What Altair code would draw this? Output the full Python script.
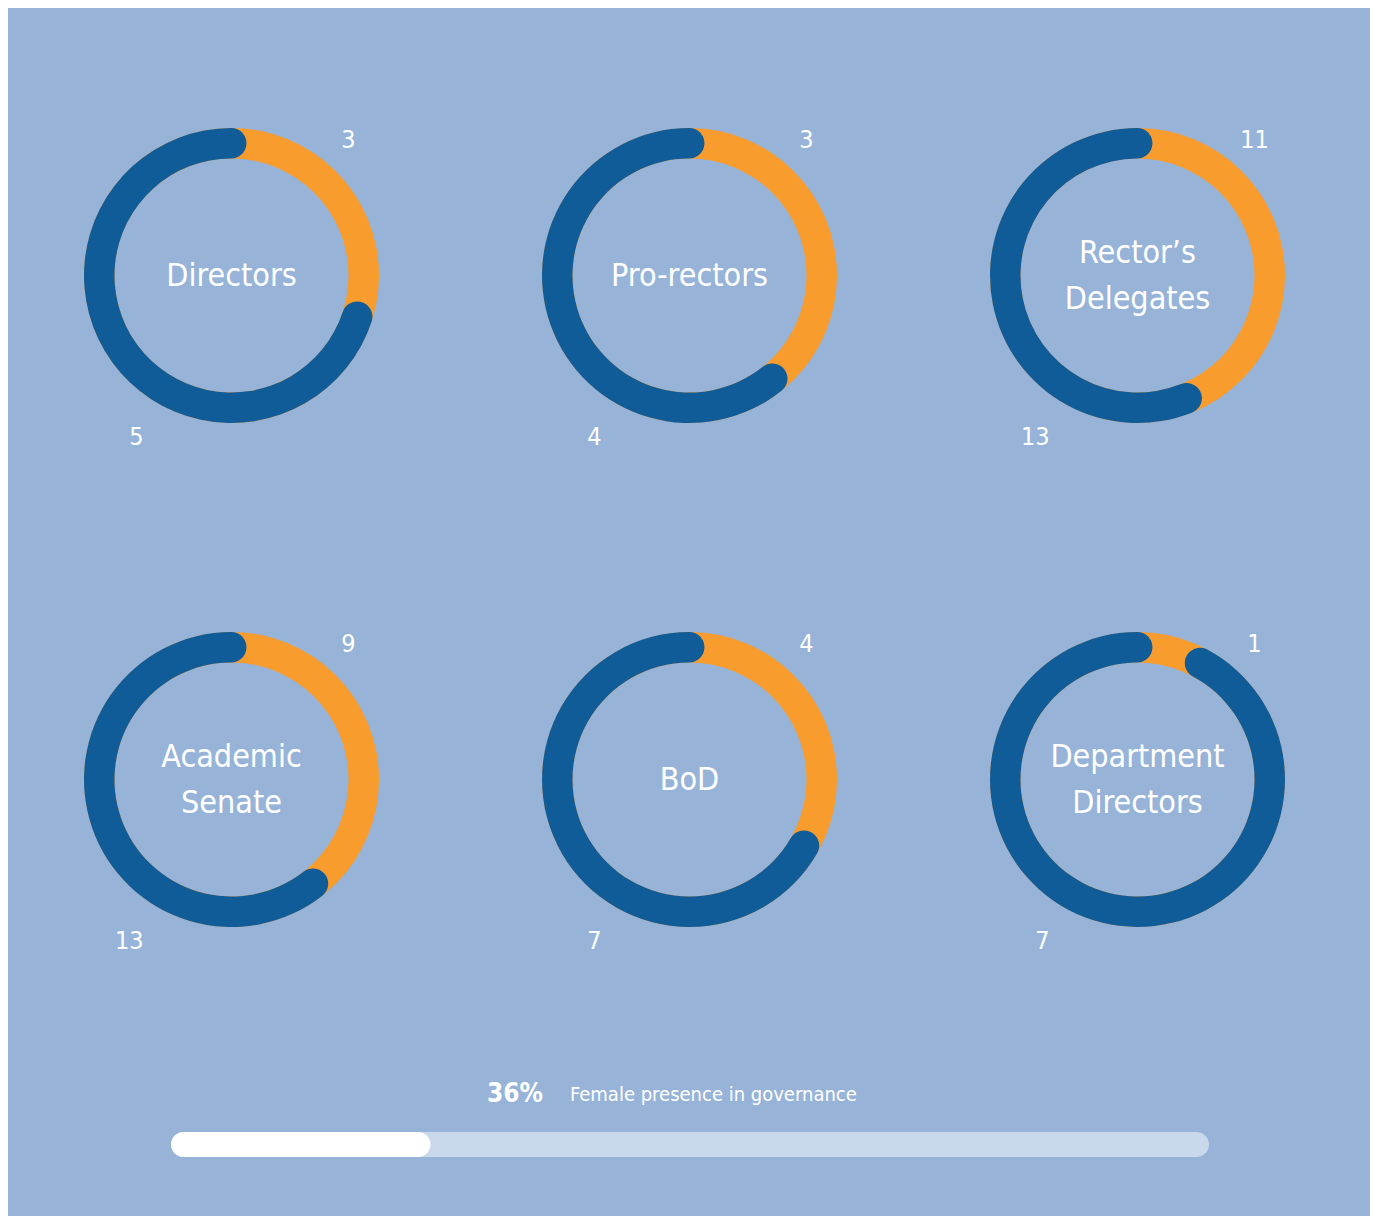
import altair as alt
import pandas as pd

# ---- data ----
groups = ["Directors", "Pro-rectors", "Rector’s\nDelegates", "Academic\nSenate", "BoD", "Department\nDirectors"]
female = [3, 3, 11, 9, 4, 1]
male = [5, 4, 13, 13, 7, 7]
# share of each ring drawn in orange (start of the blue arc)
drawn_female_share = [0.30, 0.392, 0.439, 0.394, 0.333, 0.078]

female_presence_label = "36%"
female_presence_text = "Female presence in governance"
progress_fill = 0.25   # filled part of the bottom bar, as drawn

# ---- styles ----
BG = "#97B4D8"
ORANGE = "#F79C2D"
BLUE = "#105C99"
TRACK = "#C9D8EB"
FONT = "'Liberation Sans Narrow', 'DejaVu Sans Condensed', sans-serif"
W, H = 1362, 1208
CAP = 0.018  # round-cap overhang (fraction of a turn)
ROW_PX = 504.0
LINE_H = 46

df = pd.DataFrame({
    "group": groups,
    "female": female,
    "male": male,
    "share": drawn_female_share,
})
df["col"] = [i % 3 for i in range(len(df))]
df["row"] = [i // 3 for i in range(len(df))]

xs = alt.Scale(domain=[0, 1, 2], range=[223.5, 681.5, 1129.5])
ys = alt.Scale(domain=[0, 1], range=[267.5, 771.5])
ts = alt.Scale(domain=[0, 1], range=[0, 6.283185307179586])

base = alt.Chart(df).encode(
    x=alt.X("col:Q", scale=xs, axis=None),
    y=alt.Y("row:Q", scale=ys, axis=None),
)

ring = base.mark_arc(innerRadius=117, outerRadius=147.5, color=ORANGE).transform_calculate(
    t0="0", t1="1"
).encode(
    theta=alt.Theta("t0:Q", scale=ts, stack=None),
    theta2=alt.Theta2("t1:Q"),
)

blue = base.mark_arc(innerRadius=117, outerRadius=147.5, cornerRadius=15.25, color=BLUE).transform_calculate(
    b0=f"datum.share - {CAP}", b1=f"1 + {CAP}"
).encode(
    theta=alt.Theta("b0:Q", scale=ts, stack=None),
    theta2=alt.Theta2("b1:Q"),
)

center_text = alt.Chart(df).transform_calculate(
    nl="length(split(datum.group, '\\n'))",
    ty=f"datum.row - (datum.nl - 1) * {LINE_H / 2} / {ROW_PX}",
).mark_text(
    font=FONT, fontSize=32, color="white", lineHeight=LINE_H, lineBreak="\n",
    align="center", baseline="middle", dy=0,
).encode(
    x=alt.X("col:Q", scale=xs, axis=None),
    y=alt.Y("ty:Q", scale=ys, axis=None),
    text="group:N",
)

female_text = base.mark_text(
    font=FONT, fontSize=25, color="white", align="center", baseline="middle", dx=117, dy=-136,
).encode(text="female:Q")

male_text = base.mark_text(
    font=FONT, fontSize=25, color="white", align="right", baseline="middle", dx=-88, dy=161,
).encode(text="male:Q")

bx = alt.Scale(domain=[0, 1], range=[163, 1201])
track_df = pd.DataFrame({"start": [0.0], "end": [1.0]})
fill_df = pd.DataFrame({"start": [0.0], "end": [progress_fill]})

track = alt.Chart(track_df).mark_bar(cornerRadius=12.5, color=TRACK).encode(
    x=alt.X("start:Q", scale=bx, axis=None), x2="end:Q",
    y=alt.value(1124), y2=alt.value(1149),
)
fill = alt.Chart(fill_df).mark_bar(cornerRadius=12.5, color="white").encode(
    x=alt.X("start:Q", scale=bx, axis=None), x2="end:Q",
    y=alt.value(1124), y2=alt.value(1149),
)

pct = alt.Chart(pd.DataFrame({"t": [female_presence_label]})).mark_text(
    font=FONT, fontSize=26, fontWeight="bold", color="white", align="left", baseline="alphabetic",
).encode(text="t:N", x=alt.value(479), y=alt.value(1094))

caption = alt.Chart(pd.DataFrame({"t": [female_presence_text]})).mark_text(
    font=FONT, fontSize=20, color="white", align="left", baseline="alphabetic",
).encode(text="t:N", x=alt.value(562), y=alt.value(1093))

chart = alt.layer(
    ring, blue, center_text, female_text, male_text, track, fill, pct, caption
).resolve_scale(
    x="independent", y="independent"
).properties(
    width=W, height=H, background=BG, padding=0, autosize="none"
).configure_view(strokeWidth=0)

chart.save("out.html", embed_options={"renderer": "svg", "actions": False})
